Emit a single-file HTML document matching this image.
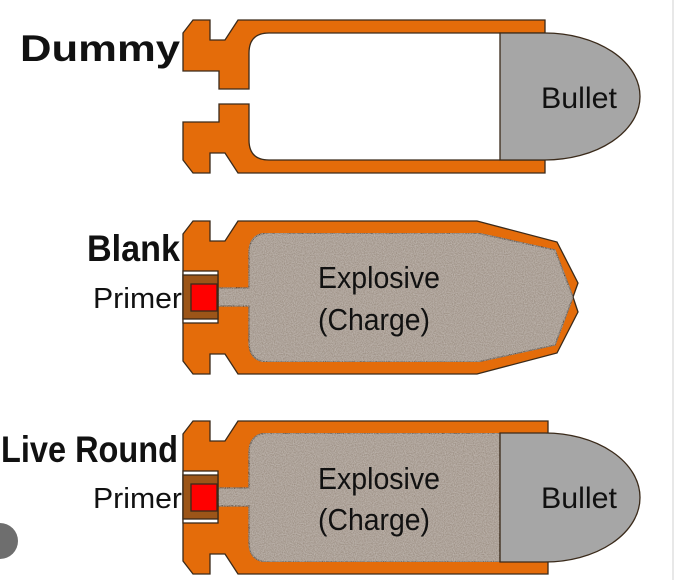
<!DOCTYPE html>
<html><head><meta charset="utf-8"><style>
html,body{margin:0;padding:0;background:#fff;width:685px;height:580px;overflow:hidden}
svg{display:block}
text{font-family:"Liberation Sans",sans-serif}
</style></head><body>
<svg width="685" height="580" viewBox="0 0 685 580" xmlns="http://www.w3.org/2000/svg">
<defs>
<filter id="sp" x="0" y="0" width="100%" height="100%">
<feTurbulence type="fractalNoise" baseFrequency="0.9" numOctaves="2" seed="3" result="n"/>
<feColorMatrix in="n" type="matrix" values="0 0 0 0 0.55  0 0 0 0 0.5  0 0 0 0 0.46  0 0 0 1.4 -0.3" result="c"/>
<feComposite in="c" in2="SourceGraphic" operator="in" result="t"/>
<feMerge><feMergeNode in="SourceGraphic"/><feMergeNode in="t"/></feMerge>
</filter>
</defs>
<g stroke="#3a2a1a" stroke-width="1.3" stroke-linejoin="miter">
<path fill="#e46c0a" d="M183,33 L193,20 L210,20 L210,40 L225,40 L238,20 L545,20 L545,33 L269,33 Q249,33 249,53 L249,89 L219,89 L219,71 L183,71 Z"/>
<path fill="#e46c0a" d="M183,160 L193,173 L210,173 L210,153 L225,153 L238,173 L545,173 L545,160 L269,160 Q249,160 249,140 L249,104 L219,104 L219,122 L183,122 Z"/>
<path fill="#a6a6a6" d="M500,33 L545,33 A95,63.5 0 0 1 545,160 L500,160 Z"/>

<path fill="#e46c0a" d="M183,234 L193,221 L210,221 L210,241 L225,241 L238,221 L477,221 L557,242 L578,283 L573,297 L578,312 L557,353 L477,374 L238,374 L225,354 L210,354 L210,374 L193,374 L183,361 Z"/>
<path fill="#9d9084" filter="url(#sp)" d="M269,233 L477,233 L555,250 L573,297 L555,345 L477,362 L269,362 Q249,362 249,342 L249,306 L218,306 L218,288 L249,288 L249,253 Q249,233 269,233 Z"/>
<rect x="183" y="271" width="35" height="52" fill="#fff"/>
<rect x="183" y="275" width="35" height="44" fill="#9c5518"/>
<rect x="191" y="284" width="26" height="27" fill="#ff0000"/>

<path fill="#e46c0a" d="M183,434 L193,421 L210,421 L210,441 L225,441 L238,421 L548,421 L548,574 L238,574 L225,554 L210,554 L210,574 L193,574 L183,561 Z"/>
<path fill="#9d9084" filter="url(#sp)" d="M269,433 L500,433 L500,562 L269,562 Q249,562 249,542 L249,506 L218,506 L218,488 L249,488 L249,453 Q249,433 269,433 Z"/>
<path fill="#a6a6a6" d="M500,433 L545,433 A95,64.5 0 0 1 545,562 L500,562 Z"/>
<rect x="183" y="471" width="35" height="52" fill="#fff"/>
<rect x="183" y="475" width="35" height="44" fill="#9c5518"/>
<rect x="191" y="484" width="26" height="27" fill="#ff0000"/>
</g>
<g fill="#111">
<text x="20" y="61" font-size="37" font-weight="bold" textLength="160" lengthAdjust="spacingAndGlyphs">Dummy</text>
<text x="87" y="261" font-size="37" font-weight="bold" textLength="93" lengthAdjust="spacingAndGlyphs">Blank</text>
<text x="1" y="462" font-size="37" font-weight="bold" textLength="177" lengthAdjust="spacingAndGlyphs">Live Round</text>
<text x="93" y="308" font-size="29" textLength="89" lengthAdjust="spacingAndGlyphs">Primer</text>
<text x="93" y="508" font-size="29" textLength="89" lengthAdjust="spacingAndGlyphs">Primer</text>
<text x="541" y="108" font-size="30" textLength="76" lengthAdjust="spacingAndGlyphs">Bullet</text>
<text x="541" y="508" font-size="30" textLength="76" lengthAdjust="spacingAndGlyphs">Bullet</text>
<text x="318" y="288" font-size="31" textLength="122" lengthAdjust="spacingAndGlyphs">Explosive</text>
<text x="318" y="330" font-size="31" textLength="112" lengthAdjust="spacingAndGlyphs">(Charge)</text>
<text x="318" y="489" font-size="31" textLength="122" lengthAdjust="spacingAndGlyphs">Explosive</text>
<text x="318" y="530" font-size="31" textLength="112" lengthAdjust="spacingAndGlyphs">(Charge)</text>
</g>
<line x1="673" y1="0" x2="673" y2="580" stroke="#e8e8e8" stroke-width="2"/>
<circle cx="0" cy="541" r="18" fill="#6e6e6e"/>
</svg>
</body></html>
